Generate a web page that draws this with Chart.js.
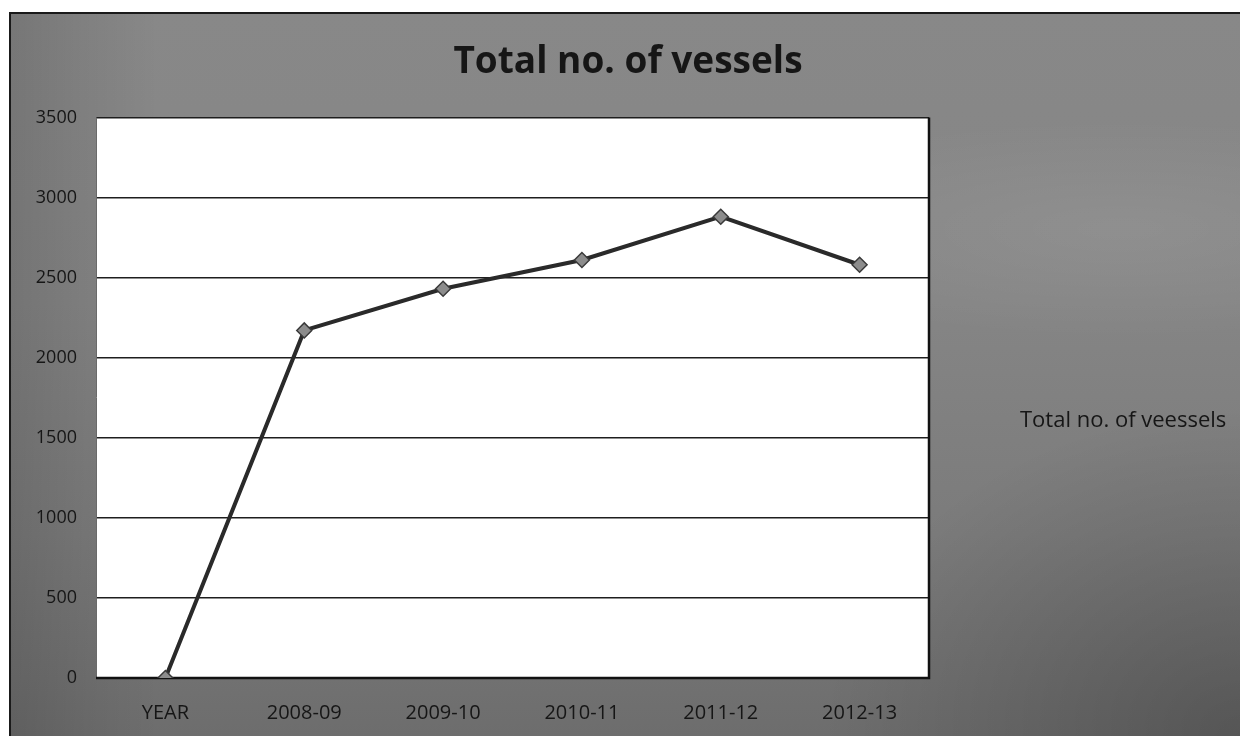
<!DOCTYPE html>
<html>
<head>
<meta charset="utf-8">
<title>Total no. of vessels</title>
<script src="https://cdn.jsdelivr.net/npm/chart.js@4/dist/chart.umd.min.js"></script>
<style>
  html, body { margin: 0; padding: 0; background: #ffffff; }
  body { width: 1240px; height: 736px; position: relative; overflow: hidden; }
  #frame {
    position: absolute; left: 9px; top: 12px; width: 1231px; height: 724px;
    box-sizing: border-box;
    border-left: 2px solid #1a1a1a; border-top: 2px solid #1a1a1a;
    background:
      linear-gradient(to right, rgba(0,0,0,0.13) 0%, rgba(0,0,0,0.06) 6%, rgba(0,0,0,0) 12%, rgba(0,0,0,0) 100%),
      radial-gradient(ellipse 420px 110px at 1110px 215px, rgba(255,255,255,0.08), rgba(255,255,255,0) 100%),
      radial-gradient(ellipse 420px 330px at 1230px 724px, rgba(0,0,0,0.22), rgba(0,0,0,0) 100%),
      linear-gradient(to bottom, #888888 0%, #858585 40%, #7b7b7b 72%, #6d6d6d 100%);
  }
  canvas { position: absolute; left: 0; top: 0; }
</style>
</head>
<body>
<div id="frame"><canvas id="chart" width="1229" height="722"></canvas></div>
<script>
// Fiscal-year categories and vessel counts
const categories = ['YEAR', '2008-09', '2009-10', '2010-11', '2011-12', '2012-13'];
const vessels = [0, 2170, 2430, 2610, 2880, 2580];
const seriesName = 'Total no. of veessels';
const chartTitle = 'Total no. of vessels';
const yTicks = [0, 500, 1000, 1500, 2000, 2500, 3000, 3500];

const FONT = "'Open Sans', 'DejaVu Sans', sans-serif";
const INK = '#161616';

// White plot area with its dark outline
const plotFrame = {
  id: 'plotFrame',
  beforeDraw(chart) {
    const {ctx, chartArea: a} = chart;
    ctx.save();
    ctx.fillStyle = '#ffffff';
    ctx.fillRect(a.left, a.top, a.right - a.left, a.bottom - a.top);
    ctx.restore();
  },
  beforeDatasetsDraw(chart) {
    const {ctx, chartArea: a} = chart;
    ctx.save();
    ctx.strokeStyle = '#6a6a6a';
    ctx.lineWidth = 1;
    ctx.beginPath();
    ctx.moveTo(a.left + 0.5, a.top);
    ctx.lineTo(a.left + 0.5, a.bottom);
    ctx.stroke();
    ctx.strokeStyle = '#111111';
    ctx.lineWidth = 2.5;
    ctx.beginPath();
    ctx.moveTo(a.left, a.bottom);
    ctx.lineTo(a.right, a.bottom);
    ctx.lineTo(a.right, a.top);
    ctx.stroke();
    ctx.restore();
  }
};

new Chart(document.getElementById('chart'), {
  type: 'line',
  data: {
    labels: categories,
    datasets: [{
      label: seriesName,
      data: vessels,
      borderColor: '#2a2a2a',
      borderWidth: 4,
      tension: 0,
      pointStyle: 'rectRot',
      pointRadius: 7.5,
      pointHoverRadius: 7.5,
      pointBackgroundColor: '#8c8c8c',
      pointBorderColor: '#3a3a3a',
      pointBorderWidth: 1.5
    }]
  },
  options: {
    responsive: false,
    animation: false,
    events: [],
    layout: { padding: { left: 15, right: 10, top: 0, bottom: 0 } },
    plugins: {
      title: {
        display: true,
        text: chartTitle,
        color: INK,
        font: { family: FONT, size: 37, weight: 'bold', lineHeight: 1.2 },
        padding: { top: 26, bottom: 33 }
      },
      legend: {
        display: true,
        position: 'right',
        align: 'center',
        title: { display: true, text: '', font: { size: 12, lineHeight: 1.2 }, padding: { top: 78, bottom: 0 } },
        labels: {
          color: INK,
          boxWidth: 70,
          boxHeight: 22,
          padding: 10,
          font: { family: FONT, size: 22 },
          generateLabels(chart) {
            const items = Chart.defaults.plugins.legend.labels.generateLabels(chart);
            items.forEach(it => { it.fillStyle = 'rgba(0,0,0,0)'; it.strokeStyle = 'rgba(0,0,0,0)'; it.lineWidth = 0; });
            return items;
          }
        }
      },
      tooltip: { enabled: false }
    },
    scales: {
      x: {
        offset: true,
        grid: { display: false, drawTicks: false },
        border: { display: false },
        ticks: {
          color: INK,
          padding: 23,
          maxRotation: 0,
          font: { family: FONT, size: 20 }
        },
        afterFit(scale) { scale.height = 58; }
      },
      y: {
        min: 0,
        max: 3500,
        afterBuildTicks(scale) { scale.ticks = yTicks.map(v => ({ value: v })); },
        grid: { color: '#1e1e1e', lineWidth: 1.6, drawTicks: false },
        border: { display: false },
        ticks: {
          color: INK,
          padding: 19,
          font: { family: FONT, size: 18 },
          callback: v => String(v)
        },
        afterFit(scale) { scale.width = 70; }
      }
    }
  },
  plugins: [plotFrame]
});
</script>
</body>
</html>
